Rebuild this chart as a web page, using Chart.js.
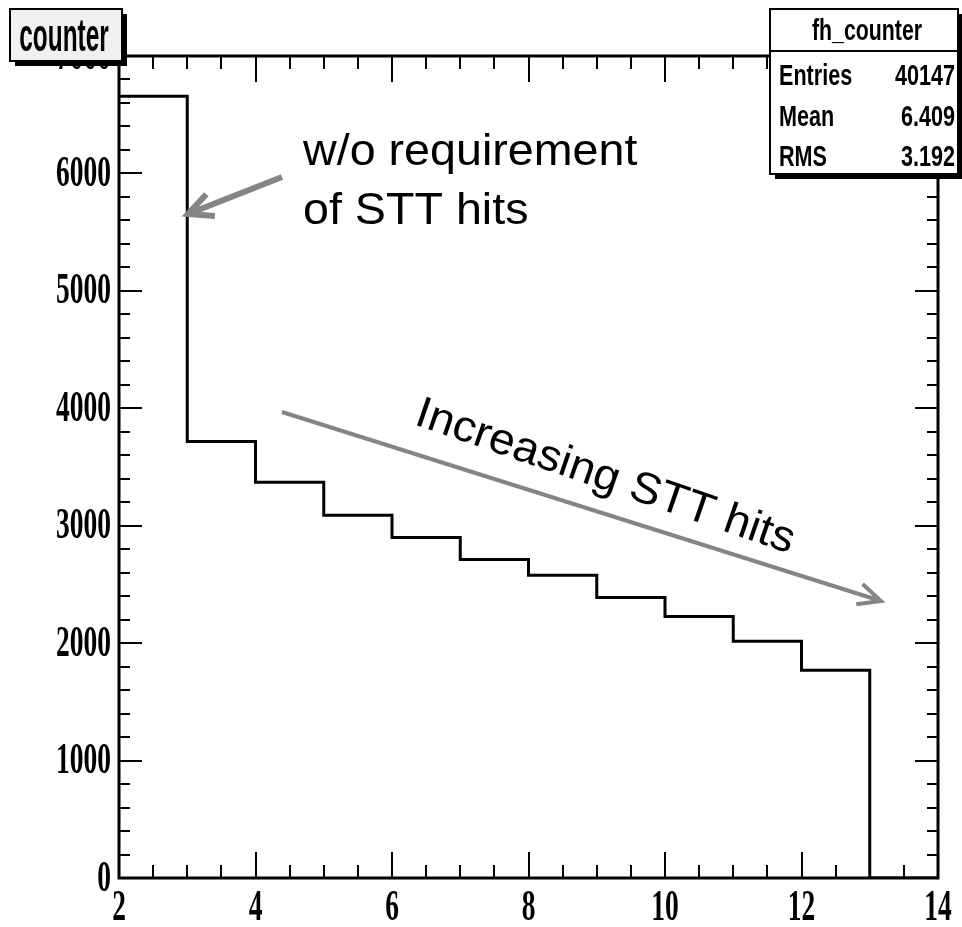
<!DOCTYPE html>
<html>
<head>
<meta charset="utf-8">
<script src="https://cdn.jsdelivr.net/npm/chart.js@4/dist/chart.umd.min.js"></script>
<style>
  body { margin: 0; background: #fff; }
  canvas { display: block; }
</style>
</head>
<body>
<canvas id="histo" width="962" height="927"></canvas>
<script>
// histogram fh_counter: bin lower edges and contents (bin width 1)
const binEdges = [2, 3, 4, 5, 6, 7, 8, 9, 10, 11, 12, 13];
const binCounts = [6658, 3717, 3370, 3089, 2899, 2713, 2578, 2388, 2226, 2016, 1769, 0];
const xMax = 14;
const xTicks = [2, 4, 6, 8, 10, 12, 14];
const yTicks = [0, 1000, 2000, 3000, 4000, 5000, 6000, 7000];
const statNames = ['Entries', 'Mean', 'RMS'];
const statValues = ['40147', '6.409', '3.192'];

// step points: each bin starts at its lower edge, last point closes at xMax
const points = binEdges.map((e, i) => ({ x: e, y: binCounts[i] }));
points.push({ x: xMax, y: binCounts[binCounts.length - 1] });

function squeezeText(ctx, text, x, y, font, sx, align) {
    ctx.save();
    ctx.font = font;
    ctx.textAlign = align || 'left';
    ctx.translate(x, y);
    ctx.scale(sx, 1);
    ctx.fillText(text, 0, 0);
    ctx.restore();
}

function arrow(ctx, x1, y1, x2, y2, width, headLen, headAng) {
    const a = Math.atan2(y1 - y2, x1 - x2);
    ctx.save();
    ctx.strokeStyle = '#858585';
    ctx.lineWidth = width;
    ctx.lineCap = 'butt';
    ctx.beginPath();
    ctx.moveTo(x1, y1);
    ctx.lineTo(x2, y2);
    ctx.moveTo(x2 + headLen * Math.cos(a - headAng), y2 + headLen * Math.sin(a - headAng));
    ctx.lineTo(x2, y2);
    ctx.lineTo(x2 + headLen * Math.cos(a + headAng), y2 + headLen * Math.sin(a + headAng));
    ctx.stroke();
    ctx.restore();
}

function box(ctx, x, y, w, h, fill) {
    ctx.fillStyle = '#000';
    ctx.fillRect(x + 5, y + 5, w, h);
    ctx.fillStyle = fill;
    ctx.fillRect(x, y, w, h);
    ctx.strokeStyle = '#000';
    ctx.lineWidth = 2;
    ctx.strokeRect(x, y, w, h);
}

const rootFrame = {
    id: 'rootFrame',
    afterDraw(chart) {
        const ctx = chart.ctx;
        const a = chart.chartArea;
        const xs = chart.scales.x;
        const ys = chart.scales.y;
        ctx.save();
        ctx.strokeStyle = '#000';

        // tick marks on all four sides, pointing inward
        ctx.lineWidth = 2;
        ctx.beginPath();
        for (let v = ys.min; v <= ys.max; v += 200) {
            const py = Math.round(ys.getPixelForValue(v));
            const len = v % 1000 === 0 ? 23 : 11;
            ctx.moveTo(a.left, py); ctx.lineTo(a.left + len, py);
            ctx.moveTo(a.right, py); ctx.lineTo(a.right - len, py);
        }
        for (let v = xs.min; v <= xs.max; v += 0.5) {
            const px = Math.round(xs.getPixelForValue(v));
            const len = v % 2 === 0 ? 26 : 13;
            ctx.moveTo(px, a.bottom); ctx.lineTo(px, a.bottom - len);
            ctx.moveTo(px, a.top); ctx.lineTo(px, a.top + len);
        }
        ctx.stroke();

        ctx.lineWidth = 3;
        ctx.strokeRect(a.left, a.top, a.right - a.left, a.bottom - a.top);

        // tick labels
        ctx.fillStyle = '#000';
        ctx.textBaseline = 'middle';
        const tickFont = 'bold 45px "Liberation Serif", "Times New Roman", serif';
        ys.ticks.forEach(t => {
            squeezeText(ctx, String(t.value), a.left - 8, ys.getPixelForValue(t.value) + 1, tickFont, 0.61, 'right');
        });
        xs.ticks.forEach(t => {
            squeezeText(ctx, String(t.value), xs.getPixelForValue(t.value), a.bottom + 30, tickFont, 0.61, 'center');
        });

        // annotations
        ctx.textBaseline = 'alphabetic';
        const noteFont = '44px "Liberation Sans", Arial, sans-serif';
        squeezeText(ctx, 'w/o requirement', 303, 165, noteFont, 1.06, 'left');
        squeezeText(ctx, 'of STT hits', 303, 224, noteFont, 1.06, 'left');
        arrow(ctx, 282, 177, 188, 214, 6, 27, 0.45);

        ctx.save();
        ctx.translate(413, 424);
        ctx.rotate(19 * Math.PI / 180);
        ctx.scale(1.05, 1);
        ctx.font = noteFont;
        ctx.textAlign = 'left';
        ctx.fillText('Increasing STT hits', 0, 0);
        ctx.restore();
        arrow(ctx, 282, 412, 881, 601, 4, 25, 0.44);

        // title box
        box(ctx, 10, 9, 112, 52, '#f0f0f0');
        ctx.fillStyle = '#000';
        squeezeText(ctx, 'counter', 64, 51, 'bold 46px "Liberation Sans", Arial, sans-serif', 0.53, 'center');

        // stats box
        box(ctx, 770, 9, 188, 165, '#fff');
        ctx.lineWidth = 2;
        ctx.beginPath();
        ctx.moveTo(770, 51); ctx.lineTo(958, 51);
        ctx.stroke();
        ctx.fillStyle = '#000';
        const statFont = 'bold 30px "Liberation Sans", Arial, sans-serif';
        squeezeText(ctx, 'fh_counter', 867, 40, statFont, 0.71, 'center');
        const rowY = [85, 126, 166];
        statNames.forEach((n, i) => {
            squeezeText(ctx, n, 779, rowY[i], statFont, 0.72, 'left');
            squeezeText(ctx, statValues[i], 955, rowY[i], statFont, 0.72, 'right');
        });
        ctx.restore();
    }
};

new Chart(document.getElementById('histo').getContext('2d'), {
    type: 'line',
    data: {
        datasets: [{
            label: 'fh_counter',
            data: points,
            stepped: true,
            borderColor: '#000',
            borderWidth: 3,
            borderJoinStyle: 'miter',
            pointRadius: 0,
            fill: false
        }]
    },
    options: {
        responsive: false,
        animation: false,
        devicePixelRatio: 1,
        layout: { padding: { left: 119, right: 24, top: 56, bottom: 49 } },
        plugins: { legend: { display: false }, tooltip: { enabled: false } },
        scales: {
            x: {
                type: 'linear', min: 2, max: xMax,
                grid: { display: false, drawTicks: false },
                border: { display: false },
                ticks: { display: false },
                afterBuildTicks: s => { s.ticks = xTicks.map(v => ({ value: v })); },
                afterFit: s => { s.height = 0; }
            },
            y: {
                type: 'linear', min: 0, max: 7000,
                grid: { display: false, drawTicks: false },
                border: { display: false },
                ticks: { display: false },
                afterBuildTicks: s => { s.ticks = yTicks.map(v => ({ value: v })); },
                afterFit: s => { s.width = 0; }
            }
        }
    },
    plugins: [rootFrame]
});
</script>
</body>
</html>
